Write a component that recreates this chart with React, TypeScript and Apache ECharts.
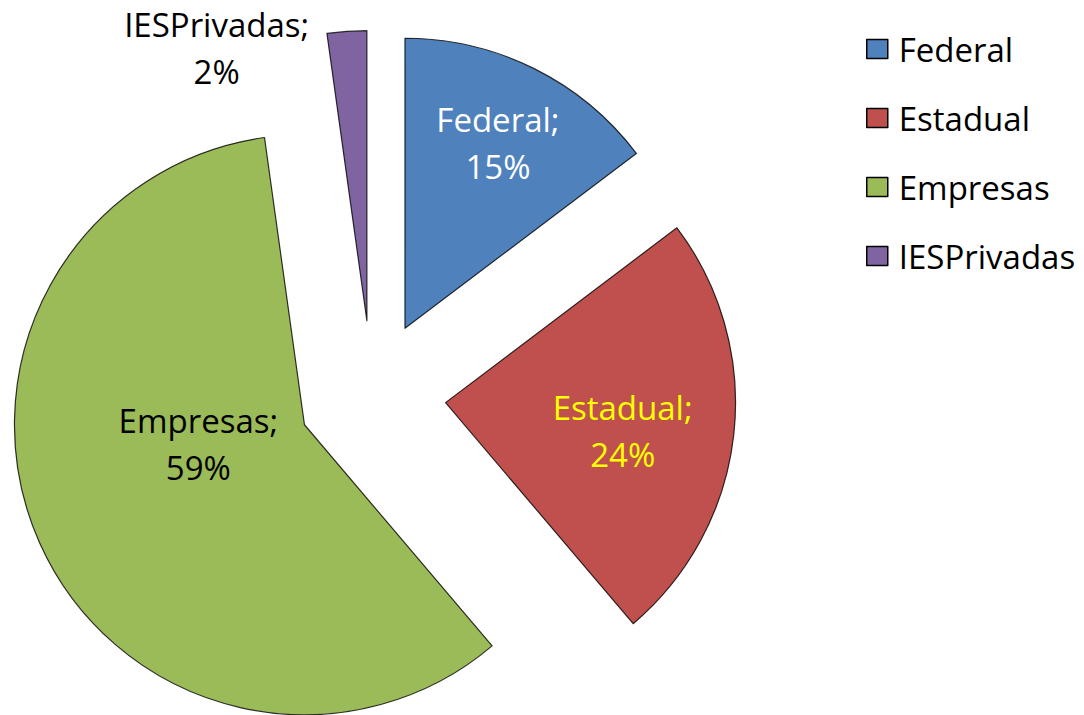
import React, { useEffect, useRef } from "react";
import * as echarts from "echarts";

const categories = ["Federal", "Estadual", "Empresas", "IESPrivadas"];
const values = [14.7, 24.1, 59.0, 2.2];

const sliceColors = ["#4f81bd", "#c0504d", "#9bbb59", "#8064a2"];
const labelColors = ["#ffffff", "#ffff00", "#000000", "#000000"];
const labelShift = [
  [27, -53],
  [30, 12],
  [29, -41],
  [-140, -125],
];

const FONT = "'Open Sans', 'Noto Sans', sans-serif";

export default function App() {
  const ref = useRef<HTMLDivElement>(null);
  useEffect(() => {
    if (!ref.current) return;
    const chart = echarts.init(ref.current, undefined, { renderer: "svg" });
    const data = categories.map((name, i) => ({
      name,
      value: values[i],
      selected: true,
      itemStyle: {
        color: sliceColors[i],
        borderColor: "rgba(0,0,0,0.8)",
        borderWidth: 1.2,
      },
      select: {
        itemStyle: {
          color: sliceColors[i],
          borderColor: "rgba(0,0,0,0.8)",
          borderWidth: 1.2,
        },
        label: { color: labelColors[i] },
      },
      label: { color: labelColors[i] },
    }));
    chart.setOption({
      animation: false,
      backgroundColor: "#ffffff",
      legend: {
        orient: "vertical",
        left: 866,
        top: 29,
        padding: 0,
        itemWidth: 21,
        itemHeight: 19,
        itemGap: 29,
        icon: "rect",
        itemStyle: { borderColor: "#000000", borderWidth: 1.5 },
        textStyle: {
          fontFamily: FONT,
          fontSize: 33,
          color: "#000000",
          lineHeight: 40,
          padding: [0, 0, 0, 6],
        },
        data: categories,
        selectedMode: false,
      },
      series: [
        {
          type: "pie",
          center: [372, 394.5],
          radius: [0, 290],
          startAngle: 90,
          clockwise: true,
          selectedMode: "multiple",
          selectedOffset: 74,
          avoidLabelOverlap: false,
          emphasis: { disabled: true },
          label: {
            show: true,
            position: "inside",
            formatter: (p: any) => `${p.name};\n${Math.round(p.percent)}%`,
            fontFamily: FONT,
            fontSize: 33,
            lineHeight: 47,
            align: "center",
            textBorderWidth: 0,
            textBorderColor: "transparent",
          },
          labelLine: { show: false },
          labelLayout: (params: any) => {
            const s = labelShift[params.dataIndex];
            return { dx: s[0], dy: s[1] };
          },
          data,
        },
      ],
    });
    return () => chart.dispose();
  }, []);
  return (
    <div
      ref={ref}
      style={{ position: "fixed", left: 0, top: 0, width: 1084, height: 715 }}
    />
  );
}
